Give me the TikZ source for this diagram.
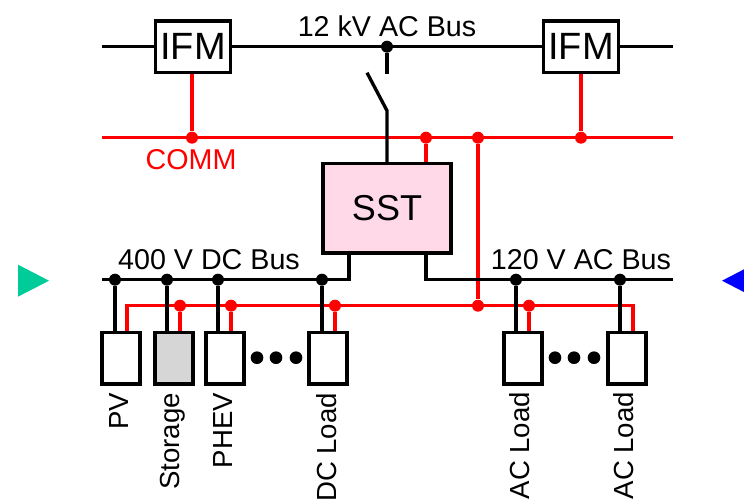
\documentclass[tikz,border=0pt]{standalone}
\usepackage{fontspec}
\setmainfont{Liberation Sans}
\definecolor{sstpink}{RGB}{255,217,232}
\definecolor{storegray}{RGB}{214,214,214}
\definecolor{leftgreen}{RGB}{0,204,153}
\tikzset{
    busline/.style={black,line width=2.5pt},
    commline/.style={red,line width=2.5pt},
    devbox/.style={draw,rectangle,line width=2.6pt,inner sep=0pt,minimum width=28.5pt,minimum height=38.5pt},
    busdot/.style={circle,fill=black,inner sep=0pt,minimum size=9pt},
    commdot/.style={circle,fill=red,inner sep=0pt,minimum size=9pt},
    gapdot/.style={circle,fill=black,inner sep=0pt,minimum size=9.5pt},
    vlabel/.style={rotate=90,anchor=east,inner sep=0pt,font=\fontsize{20.7}{20.7}\selectfont},
    buslabel/.style={inner sep=0pt,font=\fontsize{21.5}{21.5}\selectfont}
}
\begin{document}
\begin{tikzpicture}[x=0.75pt,y=-0.75pt]
    \useasboundingbox (0,-0.7) rectangle (744,501.3);
    \clip (0,-0.7) rectangle (744,501.3);
    \fill[leftgreen] (18,264) -- (49,280) -- (18,296) -- cycle;
    \fill[blue] (722,280) -- (753,264) -- (753,296) -- cycle;
    \coordinate (hvl) at (102,46);
    \coordinate (hvr) at (673,46);
    \coordinate (cml) at (102,137);
    \coordinate (cmr) at (673,137);
    \coordinate (dcl) at (102,279);
    \coordinate (acr) at (673,279);
    \coordinate (dcs) at (349,279);
    \coordinate (acs) at (426,279);
    \coordinate (swa) at (387,73);
    \coordinate (swb) at (387,110);
    \coordinate (swc) at (367,72);
    \coordinate (rdl) at (127,305);
    \coordinate (rdr) at (633,305);
    \coordinate (ifmal) at (193,46);
    \coordinate (ifmbl) at (581,46);
    \coordinate (sstl) at (387,207.5);
    \coordinate (pvl) at (121,357.5);
    \coordinate (storel) at (174,357.5);
    \coordinate (phevl) at (225,357.5);
    \coordinate (dcloadl) at (328,357.5);
    \coordinate (acloadal) at (523,357.5);
    \coordinate (acloadbl) at (627,357.5);
    \begin{scope}[every node/.style={commdot}]
        \node (cma) at (192,137) {};
        \node (cmb) at (426,137) {};
        \node (cmc) at (478,137) {};
        \node (cmd) at (581,137) {};
        \node (rda) at (180,305) {};
        \node (rdb) at (231,305) {};
        \node (rdc) at (335,305) {};
        \node (rdd) at (478,305) {};
        \node (rde) at (529,305) {};
    \end{scope}
    \draw[commline] (cml) -- (cmr);
    \draw[commline] (rdl |- pvl) -- (rdl) -- (rdr) -- (rdr |- acloadbl);
    \draw[commline] (cma) -- (ifmal -| cma);
    \draw[commline] (cmd) -- (ifmbl);
    \draw[commline] (cmb) -- (cmb |- sstl);
    \draw[commline] (cmc) -- (rdd);
    \draw[commline] (rda) -- (rda |- storel);
    \draw[commline] (rdb) -- (rdb |- phevl);
    \draw[commline] (rdc) -- (rdc |- dcloadl);
    \draw[commline] (rde) -- (rde |- acloadal);
    \begin{scope}[every node/.style={busdot}]
        \node (hvj) at (387,46) {};
        \node (dca) at (115,279) {};
        \node (dcb) at (167,279) {};
        \node (dcc) at (218,279) {};
        \node (dcd) at (322,279) {};
        \node (aca) at (516,279) {};
        \node (acb) at (620,279) {};
    \end{scope}
    \draw[busline] (hvl) -- (hvr);
    \draw[busline] (hvj) -- (swa);
    \draw[busline] (swc) -- (swb) -- (sstl);
    \draw[busline] (dcl) -- (dcs) -- (dcs |- sstl);
    \draw[busline] (acr) -- (acs) -- (acs |- sstl);
    \draw[busline] (dca) -- (dca |- pvl);
    \draw[busline] (dcb) -- (dcb |- storel);
    \draw[busline] (dcc) -- (dcc |- phevl);
    \draw[busline] (dcd) -- (dcd |- dcloadl);
    \draw[busline] (aca) -- (aca |- acloadal);
    \draw[busline] (acb) -- (acb |- acloadbl);
    \begin{scope}[every node/.style={devbox,fill=white}]
        \node[minimum width=56pt,font=\fontsize{28.5}{28.5}\selectfont] (ifma) at (ifmal) {IFM};
        \node[minimum width=56pt,font=\fontsize{28.5}{28.5}\selectfont] (ifmb) at (ifmbl) {IFM};
        \node[minimum width=96pt,minimum height=67pt,fill=sstpink,font=\fontsize{27}{27}\selectfont] (sst) at (sstl) {SST};
        \node (pv) at (pvl) {};
        \node[fill=storegray] (store) at (storel) {};
        \node (phev) at (phevl) {};
        \node (dcload) at (dcloadl) {};
        \node (acloada) at (acloadal) {};
        \node (acloadb) at (acloadbl) {};
    \end{scope}
    \begin{scope}[every node/.style={gapdot}]
        \node (gapa) at (257,357) {};
        \node (gapb) at (276,357) {};
        \node (gapc) at (296,357) {};
        \node (gapd) at (555,357) {};
        \node (gape) at (574,357) {};
        \node (gapf) at (594,357) {};
    \end{scope}
    \begin{scope}[every node/.style={buslabel}]
        \node (hvtext) at (387,26) {12 kV AC Bus};
        \node (dctext) at (209,259) {400 V DC Bus};
        \node (actext) at (581,259) {120 V AC Bus};
        \node[text=red] (commtext) at (191,159) {COMM};
    \end{scope}
    \begin{scope}[every node/.style={vlabel}]
        \node (pvtext) at (119,392) {PV};
        \node (storetext) at (173,392) {Storage};
        \node (phevtext) at (223,392) {PHEV};
        \node (dctextb) at (327,392) {DC Load};
        \node (actexta) at (520,391) {AC Load};
        \node (actextb) at (624,391) {AC Load};
    \end{scope}
\end{tikzpicture}
\end{document}
